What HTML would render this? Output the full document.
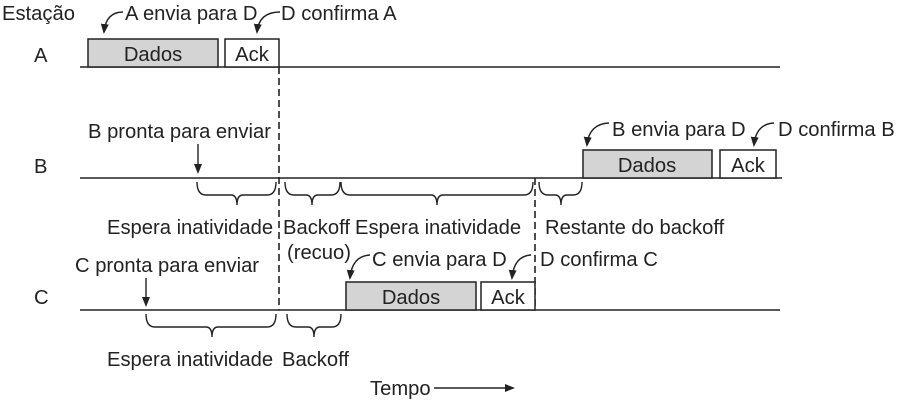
<!DOCTYPE html>
<html><head><meta charset="utf-8"><style>
html,body{margin:0;padding:0;background:#fff;}
svg{display:block;}
text{font-family:"Liberation Sans",sans-serif;font-size:20.2px;fill:#222;}
</style></head><body>
<svg width="900" height="401" viewBox="0 0 900 401">
<defs>
<marker id="ah" markerWidth="10" markerHeight="12" refX="8" refY="5" orient="auto" markerUnits="userSpaceOnUse">
<path d="M0,1 L10,5 L0,9 Z" fill="#222"/></marker>
</defs>
<g stroke="#222" stroke-width="1.6" fill="none">
<line x1="80" y1="67" x2="780" y2="67"/>
<line x1="80" y1="178" x2="782" y2="178"/>
<line x1="80" y1="310" x2="780" y2="310"/>
<line x1="279" y1="67" x2="279" y2="310" stroke-dasharray="7,4"/>
<line x1="535" y1="178" x2="535" y2="310" stroke-dasharray="7,4"/>
</g>
<g stroke="#222" stroke-width="1.5">
<rect x="88" y="39" width="130" height="28" fill="#d4d4d4"/>
<rect x="225" y="39" width="54" height="28" fill="#fff"/>
<rect x="583" y="150" width="129" height="28" fill="#d4d4d4"/>
<rect x="720" y="150" width="56" height="28" fill="#fff"/>
<rect x="346" y="282" width="130" height="28" fill="#d4d4d4"/>
<rect x="481" y="282" width="54" height="28" fill="#fff"/>
</g>
<g stroke="#222" stroke-width="1.4" fill="none">
<path d="M197,182 q0,13 9,13 H231 q6,0 6,10 q0,-10 6,-10 H267 q9,0 9,-13"/>
<path d="M285,182 q0,13 9,13 H306 q6,0 6,10 q0,-10 6,-10 H331 q9,0 9,-13"/>
<path d="M341,182 q0,13 9,13 H431 q6,0 6,10 q0,-10 6,-10 H524 q9,0 9,-13"/>
<path d="M539,182 q0,13 9,13 H555 q6,0 6,10 q0,-10 6,-10 H573 q9,0 9,-13"/>
<path d="M146,314 q0,13 9,13 H206 q6,0 6,10 q0,-10 6,-10 H267 q9,0 9,-13"/>
<path d="M287,314 q0,13 9,13 H308 q6,0 6,10 q0,-10 6,-10 H332 q9,0 9,-13"/>
<line x1="198" y1="144" x2="198" y2="172" marker-end="url(#ah)"/>
<line x1="146" y1="278" x2="146" y2="305" marker-end="url(#ah)"/>
<line x1="434" y1="388" x2="513" y2="388" marker-end="url(#ah)"/>
<path d="M123,12 Q106,12 104,32" marker-end="url(#ah)"/>
<path d="M280,12 Q259,12 257,32" marker-end="url(#ah)"/>
<path d="M609,123 Q589,124 587,145" marker-end="url(#ah)"/>
<path d="M774,123 Q756,124 754,145" marker-end="url(#ah)"/>
<path d="M370,255 Q352,256 350,278" marker-end="url(#ah)"/>
<path d="M531,255 Q514,256 512,278" marker-end="url(#ah)"/>
</g>
<text x="2" y="20">Estação</text>
<text x="125" y="20">A envia para D</text>
<text x="281" y="20">D confirma A</text>
<text x="34" y="62">A</text>
<text x="153" y="61" text-anchor="middle">Dados</text>
<text x="252" y="61" text-anchor="middle">Ack</text>
<text x="88" y="138">B pronta para enviar</text>
<text x="34" y="173">B</text>
<text x="612" y="136">B envia para D</text>
<text x="778" y="136">D confirma B</text>
<text x="647" y="172" text-anchor="middle">Dados</text>
<text x="748" y="172" text-anchor="middle">Ack</text>
<text x="107" y="234">Espera inatividade</text>
<text x="283" y="234">Backoff</text>
<text x="355" y="234">Espera inatividade</text>
<text x="545" y="234">Restante do backoff</text>
<text x="287" y="259">(recuo)</text>
<text x="75" y="272">C pronta para enviar</text>
<text x="372" y="266">C envia para D</text>
<text x="540" y="266">D confirma C</text>
<text x="34" y="304">C</text>
<text x="411" y="304" text-anchor="middle">Dados</text>
<text x="508" y="304" text-anchor="middle">Ack</text>
<text x="107" y="366">Espera inatividade</text>
<text x="282" y="366">Backoff</text>
<text x="370" y="395">Tempo</text>
</svg>
</body></html>
